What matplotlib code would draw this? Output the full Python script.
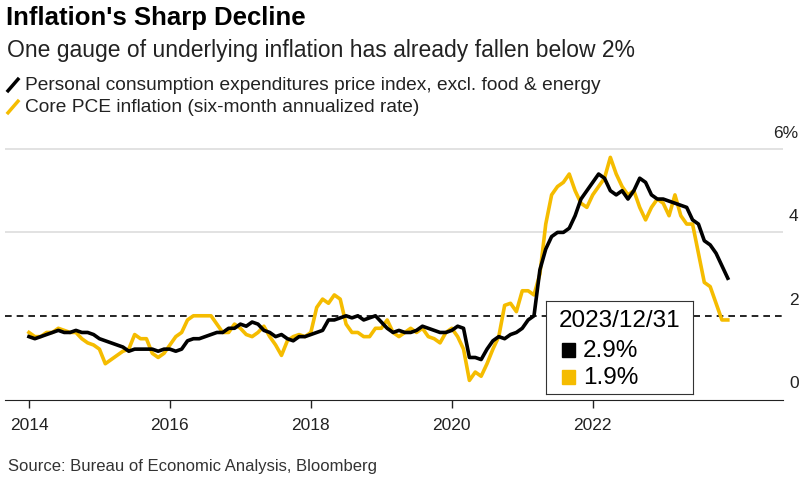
import matplotlib
matplotlib.use("Agg")
import matplotlib.pyplot as plt
import numpy as np

plt.rcParams["font.family"] = ["Liberation Sans", "DejaVu Sans"]

# monthly values, Jan 2014 .. Dec 2023
core_pce_yoy = [
    1.5, 1.45, 1.5, 1.55, 1.6, 1.65, 1.6, 1.6, 1.65, 1.6, 1.6, 1.55,
    1.45, 1.4, 1.35, 1.3, 1.25, 1.15, 1.2, 1.2, 1.2, 1.2, 1.15, 1.2,
    1.2, 1.15, 1.2, 1.4, 1.45, 1.45, 1.5, 1.55, 1.6, 1.6, 1.7, 1.7,
    1.8, 1.75, 1.85, 1.8, 1.65, 1.6, 1.5, 1.55, 1.45, 1.4, 1.5, 1.5,
    1.55, 1.6, 1.65, 1.9, 1.9, 1.95, 2.0, 1.95, 2.0, 1.9, 1.95, 2.0,
    1.85, 1.7, 1.6, 1.65, 1.6, 1.6, 1.65, 1.75, 1.7, 1.65, 1.6, 1.6,
    1.65, 1.75, 1.7, 1.0, 1.0, 0.95, 1.2, 1.4, 1.5, 1.45, 1.55, 1.6,
    1.7, 1.9, 2.0, 3.1, 3.6, 3.9, 4.0, 4.0, 4.1, 4.4, 4.8, 5.0,
    5.2, 5.4, 5.3, 5.0, 4.9, 5.0, 4.8, 5.0, 5.3, 5.2, 4.9, 4.8,
    4.8, 4.75, 4.7, 4.65, 4.6, 4.3, 4.2, 3.8, 3.7, 3.5, 3.2, 2.9,
]
core_pce_6m = [
    1.6, 1.5, 1.5, 1.6, 1.6, 1.7, 1.65, 1.6, 1.6, 1.45, 1.35, 1.3,
    1.2, 0.85, 0.95, 1.05, 1.15, 1.2, 1.55, 1.45, 1.45, 1.1, 1.0, 1.1,
    1.3, 1.5, 1.6, 1.9, 2.0, 2.0, 2.0, 2.0, 1.8, 1.6, 1.6, 1.8,
    1.7, 1.55, 1.5, 1.6, 1.75, 1.5, 1.3, 1.05, 1.4, 1.5, 1.55, 1.5,
    1.6, 2.2, 2.4, 2.3, 2.5, 2.4, 1.8, 1.6, 1.6, 1.5, 1.5, 1.7,
    1.7, 1.9, 1.6, 1.5, 1.6, 1.7, 1.6, 1.7, 1.5, 1.45, 1.35, 1.6,
    1.7, 1.5, 1.2, 0.45, 0.65, 0.55, 0.85, 1.2, 1.5, 2.25, 2.3, 2.1,
    2.6, 2.6, 2.5, 3.0, 4.2, 4.9, 5.1, 5.2, 5.4, 5.0, 4.7, 4.6,
    4.9, 5.1, 5.3, 5.8, 5.4, 5.1, 4.9, 5.0, 4.6, 4.3, 4.6, 4.8,
    4.7, 4.4, 4.9, 4.4, 4.2, 4.2, 3.5, 2.8, 2.7, 2.3, 1.9, 1.9,
]
dates = 2014 + np.arange(len(core_pce_yoy)) / 12
x_ticks = [2014, 2016, 2018, 2020, 2022]
y_ticks = [0, 2, 4, 6]
series_names = ["Personal consumption expenditures price index, excl. food & energy",
                "Core PCE inflation (six-month annualized rate)"]
BLACK, YELLOW = "#000000", "#f5bc00"

fig = plt.figure(figsize=(8.06, 4.81), dpi=100)
ax = fig.add_axes([5 / 806, 1 - 401 / 481, 778 / 806, 276 / 481])
ax.set_xlim(2013.66, 2024.70)
ax.set_ylim(-0.02, 6.6)

for y in [4, 6]:
    ax.axhline(y, color="#dddddd", lw=1.2, zorder=0)
ax.axhline(2, color="black", lw=1.2, ls=(0, (4, 3)), zorder=1)
ax.plot(dates, core_pce_6m, color=YELLOW, lw=2.6, zorder=2)
ax.plot(dates, core_pce_yoy, color=BLACK, lw=2.6, zorder=3)

for s in ["top", "right", "left"]:
    ax.spines[s].set_visible(False)
ax.spines["bottom"].set_color("#222222")
ax.set_yticks([])
ax.set_xticks(x_ticks)
ax.set_xticklabels([str(t) for t in x_ticks], fontsize=12.5, color="#222222")
ax.tick_params(axis="x", length=6, width=1, pad=6, color="#222222")
for y in y_ticks:
    ax.text(1.02, y + 0.22, "6%" if y == 6 else str(y), transform=ax.get_yaxis_transform(),
            ha="right", va="bottom", fontsize=12.5, color="#222222")

# hover tooltip
tip = fig.add_axes([546 / 806, 1 - 395 / 481, 147 / 806, 93 / 481])
tip.set_xticks([]); tip.set_yticks([])
for s in tip.spines.values():
    s.set_color("#333333")
tip.set_zorder(5)
tip.text(0.5, 0.8, "2023/12/31", ha="center", va="center", fontsize=17.5)
tip.add_patch(plt.Rectangle((0.11, 0.4), 0.09, 0.15, color=BLACK))
tip.text(0.25, 0.47, f"{core_pce_yoy[-1]:.1f}%", va="center", fontsize=17.5)
tip.add_patch(plt.Rectangle((0.11, 0.11), 0.09, 0.15, color=YELLOW))
tip.text(0.25, 0.18, f"{core_pce_6m[-1]:.1f}%", va="center", fontsize=17.5)

fig.text(6 / 806, 1 - 18 / 481, "Inflation's Sharp Decline", fontsize=18.5, weight="bold", va="center")
fig.text(7 / 806, 1 - 51 / 481, "One gauge of underlying inflation has already fallen below 2%",
         fontsize=16.5, va="center", color="#222222")
for i, (name, c) in enumerate(zip(series_names, [BLACK, YELLOW])):
    yy = 1 - (86 + 22 * i) / 481
    fig.add_artist(plt.Line2D([8 / 806, 18 / 806], [yy - 0.012, yy + 0.012], color=c, lw=2.5))
    fig.text(25 / 806, yy, name, fontsize=13.8, va="center", color="#222222")
fig.text(8 / 806, 1 - 466 / 481, "Source: Bureau of Economic Analysis, Bloomberg",
         fontsize=12, va="center", color="#333333")

fig.savefig("out.png", dpi=100)
